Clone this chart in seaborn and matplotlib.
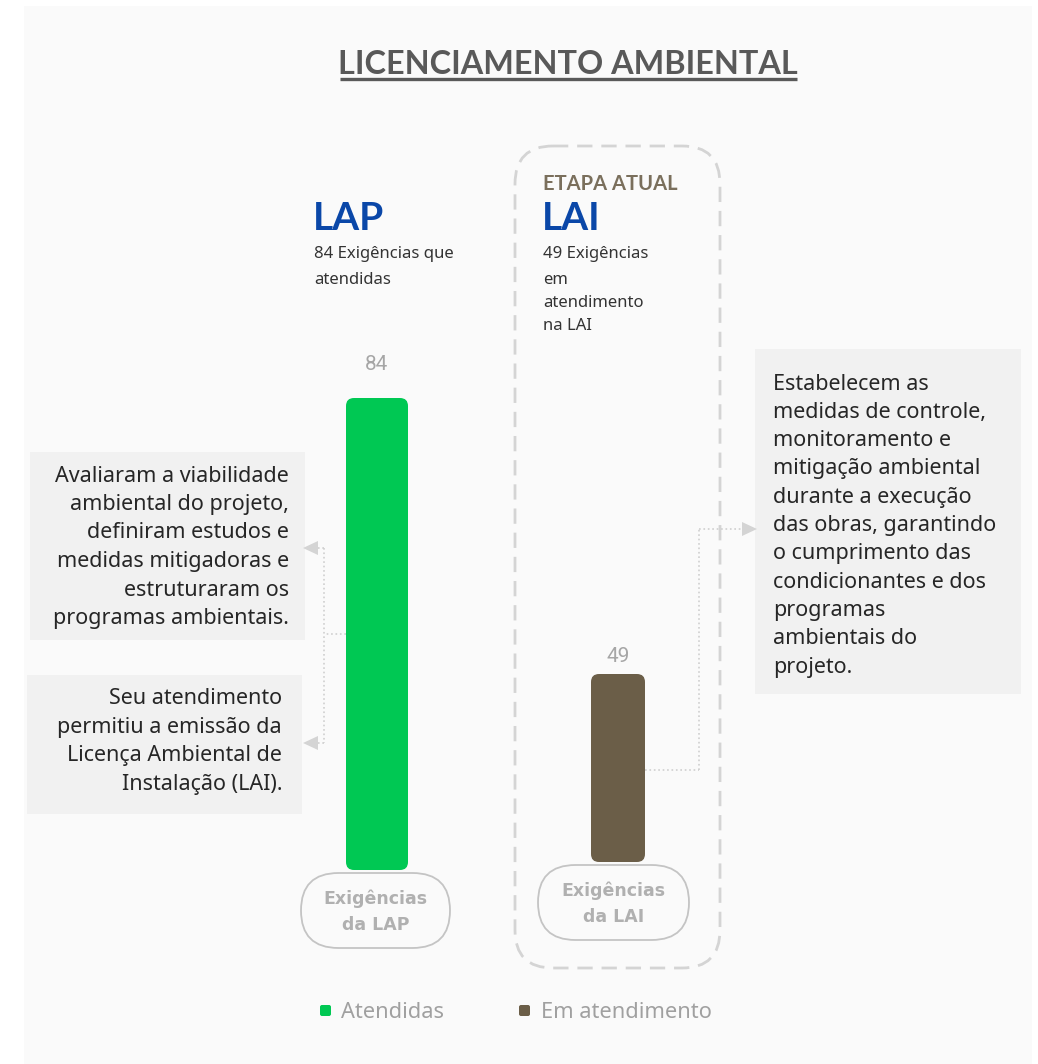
import matplotlib
matplotlib.use("Agg")
import matplotlib.pyplot as plt
import seaborn as sns
import pandas as pd
from matplotlib.patches import FancyBboxPatch, Polygon, Rectangle

# ---------------- data ----------------
stages = ["LAP", "LAI"]
values = [84, 49]
status = ["Atendidas", "Em atendimento"]
bar_colors = ["#00C853", "#6B5E48"]
pill_labels = ["Exigências\nda LAP", "Exigências\nda LAI"]
stage_subtitles = [["84 Exigências que", "atendidas"],
                   ["49 Exigências", "em", "atendimento", "na LAI"]]
title = "LICENCIAMENTO AMBIENTAL"
current_stage_label = "ETAPA ATUAL"
left_note_1 = ["Avaliaram a viabilidade", "ambiental do projeto,", "definiram estudos e",
               "medidas mitigadoras e", "estruturaram os", "programas ambientais."]
left_note_2 = ["Seu atendimento", "permitiu a emissão da", "Licença Ambiental de",
               "Instalação (LAI)."]
right_note = ["Estabelecem as", "medidas de controle,", "monitoramento e",
              "mitigação ambiental", "durante a execução", "das obras, garantindo",
              "o cumprimento das", "condicionantes e dos", "programas",
              "ambientais do", "projeto."]

W, H = 1038, 1064
sns.set_theme(style="white")
plt.rcParams["font.family"] = ["Noto Sans", "DejaVu Sans"]
BOLD = ["Lato", "DejaVu Sans"]

fig = plt.figure(figsize=(W / 100, H / 100), dpi=100)
fig.patch.set_facecolor("white")

# overlay in pixel coordinates
ov = fig.add_axes([0, 0, 1, 1])
ov.set_xlim(0, W)
ov.set_ylim(H, 0)
ov.axis("off")
ov.set_zorder(0)

# card background
ov.add_patch(Rectangle((24, 6), 1008, 1064, facecolor="#fafafa", edgecolor="none", zorder=0))

# title
ov.text(568, 64, title, ha="center", va="center", fontsize=23.3, fontweight="bold",
        color="#595959", family=BOLD)
ov.plot([340, 797], [78.5, 78.5], color="#595959", lw=2.4, solid_capstyle="butt")

# dashed current stage frame
ov.add_patch(FancyBboxPatch((515, 146), 205, 822, boxstyle="round,pad=0,rounding_size=38",
                            facecolor="none", edgecolor="#d4d4d4", lw=2.0,
                            linestyle=(0, (5.5, 3.2)), zorder=1))

# headers
ov.text(543, 184, current_stage_label, ha="left", va="center", fontsize=14.5,
        fontweight="bold", color="#7A6F5C", family=BOLD)
sub_y = [254, 280, 303, 326]
for x, name, sub in zip([314, 543], stages, stage_subtitles):
    ov.text(x - 1, 218, name, ha="left", va="center", fontsize=28, fontweight="bold",
            color="#0A47A8", family=BOLD)
    for k, line in enumerate(sub):
        ov.text(x, sub_y[k], line, ha="left", va="center", fontsize=12, color="#333333")

# ---------------- bars (seaborn) ----------------
bar_geom = [  # left, right, top, bottom, bar width in px
    (316, 438, 398, 870, 62),
    (558, 678, 674, 862, 54),
]
label_offsets = [17, 6]
for i, (stage, val, col) in enumerate(zip(stages, values, bar_colors)):
    l, r, t, b, bw = bar_geom[i]
    ax = fig.add_axes([l / W, 1 - b / H, (r - l) / W, (b - t) / H])
    ax.set_zorder(2)
    df = pd.DataFrame({"stage": [stage], "value": [val]})
    sns.barplot(data=df, x="stage", y="value", color=col, width=bw / (r - l), ax=ax,
                saturation=1)
    ax.set_ylim(0, val)
    ax.set_xlim(-0.5, 0.5)
    ax.axis("off")
    ax.patch.set_alpha(0)
    px_x = (r - l) / 1.0
    px_y = (b - t) / val
    rad = 8 / px_x
    asp = px_x / px_y
    for p in list(ax.patches):
        x0, y0, w, h = p.get_x(), p.get_y(), p.get_width(), p.get_height()
        p.set_visible(False)
        ax.add_patch(FancyBboxPatch((x0, y0), w, h,
                                    boxstyle=f"round,pad=0,rounding_size={rad}",
                                    mutation_aspect=asp, facecolor=col, edgecolor="none",
                                    clip_on=False))
        ax.annotate(f"{val}", (x0 + w / 2, y0 + h), xytext=(0, label_offsets[i]),
                    textcoords="offset points", ha="center", va="bottom",
                    fontsize=15, color="#a6a6a6", annotation_clip=False,
                    family=["Roboto", "DejaVu Sans"])

# pills
pills = [(301, 873, 149, 75), (538, 865, 151, 75)]
for (x, y, w, h), lab in zip(pills, pill_labels):
    ov.add_patch(FancyBboxPatch((x, y), w, h, boxstyle=f"round,pad=0,rounding_size={h/2}",
                                facecolor="#fafafa", edgecolor="#c4c4c4", lw=1.3, zorder=3))
    ov.text(x + w / 2, y + h / 2 + 1, lab, ha="center", va="center", fontsize=12.5,
            fontweight="bold", color="#b0b0b0", linespacing=1.6, zorder=4,
            family=["DejaVu Sans"])

# note boxes
note_font = dict(fontsize=15.5, color="#262626")
ov.add_patch(Rectangle((30, 452), 275, 188, facecolor="#f1f1f1", edgecolor="none", zorder=1))
for k, line in enumerate(left_note_1):
    ov.text(289, 476 + k * 28.5, line, ha="right", va="center", zorder=2, **note_font)
ov.add_patch(Rectangle((27, 675), 275, 139, facecolor="#f1f1f1", edgecolor="none", zorder=1))
for k, line in enumerate(left_note_2):
    ov.text(282, 699 + k * 28.5, line, ha="right", va="center", zorder=2, **note_font)
ov.add_patch(Rectangle((755, 349), 266, 345, facecolor="#f1f1f1", edgecolor="none", zorder=1))
for k, line in enumerate(right_note):
    ov.text(773, 384 + k * 28.3, line, ha="left", va="center", zorder=2, **note_font)

# connectors
cc = "#cfcfcf"
ov.plot([346, 324], [634, 634], color=cc, lw=1.2, ls=":", zorder=2)
ov.plot([324, 324], [548, 743], color=cc, lw=1.2, ls=":", zorder=2)
ov.plot([324, 316], [548, 548], color=cc, lw=1.2, ls=":", zorder=2)
ov.plot([324, 316], [743, 743], color=cc, lw=1.2, ls=":", zorder=2)
for yy in (548, 743):
    ov.add_patch(Polygon([[303, yy], [318, yy - 7], [318, yy + 7]], closed=True,
                         facecolor="#d4d4d4", edgecolor="none", zorder=2))
ov.plot([645, 699], [770, 770], color=cc, lw=1.2, ls=":", zorder=2)
ov.plot([699, 699], [770, 529], color=cc, lw=1.2, ls=":", zorder=2)
ov.plot([699, 742], [529, 529], color=cc, lw=1.2, ls=":", zorder=2)
ov.add_patch(Polygon([[757, 529], [742, 522], [742, 536]], closed=True,
                     facecolor="#d4d4d4", edgecolor="none", zorder=2))

# legend
for (sx, tx), lab, col in zip([(320, 341), (519, 541)], status, bar_colors):
    ov.add_patch(FancyBboxPatch((sx, 1005), 11, 11, boxstyle="round,pad=0,rounding_size=2",
                                facecolor=col, edgecolor="none", zorder=2))
    ov.text(tx, 1013, lab, ha="left", va="center", fontsize=15.7, color="#a0a0a0")

fig.savefig("out.png", dpi=100, facecolor="white")
